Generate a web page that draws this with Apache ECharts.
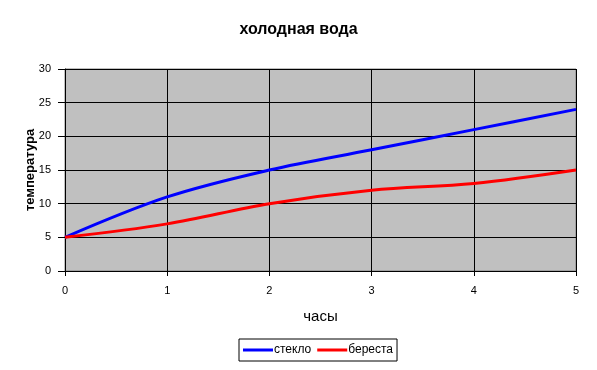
<!DOCTYPE html>
<html><head><meta charset="utf-8">
<script src="https://cdn.jsdelivr.net/npm/echarts@6/dist/echarts.min.js"></script>
<style>html,body{margin:0;padding:0;background:#fff}#c{width:597px;height:370px}</style>
</head><body><div id="c"></div>
<script>
const hours = [0, 1, 2, 3, 4, 5];
const steklo = [5, 11, 15, 18, 21, 24];
const beresta = [5, 7, 10, 12, 13, 15];
const seriesNames = ['стекло', 'береста'];
const titleText = 'холодная вода';
const xName = 'часы';
const yName = 'температура';

const font = 'Liberation Sans, Arial, sans-serif';
const chart = echarts.init(document.getElementById('c'), null, {renderer: 'canvas'});
chart.setOption({
  animation: false,
  backgroundColor: '#fff',
  title: {text: titleText, left: 'center', top: 17,
    textStyle: {fontFamily: font, fontSize: 16, fontWeight: 'bold', color: '#000'}},
  grid: {left: 65, right: 21, top: 69, bottom: 99, show: true,
    backgroundColor: '#C0C0C0', borderColor: '#808080', borderWidth: 1},
  legend: {bottom: 9, left: 239, data: seriesNames, icon: 'rect',
    itemWidth: 30, itemHeight: 3, itemGap: 6, borderColor: '#000', borderWidth: 1,
    padding: [5, 4, 5, 4], borderRadius: 0,
    textStyle: {fontFamily: font, fontSize: 12, color: '#000', padding: [0, 0, 0, -4]}},
  xAxis: {type: 'value', min: 0, max: 5, interval: 1, name: xName,
    nameLocation: 'middle', nameGap: 38, nameMoveOverlap: false,
    nameTextStyle: {fontFamily: font, fontSize: 15, color: '#000'},
    axisLine: {show: true, onZero: false, lineStyle: {color: '#000', width: 1}},
    axisTick: {show: true, length: 5, lineStyle: {color: '#000'}},
    axisLabel: {fontFamily: font, fontSize: 11, color: '#000', margin: 14},
    splitLine: {show: true, lineStyle: {color: '#000', width: 1}}},
  yAxis: {type: 'value', min: 0, max: 30, interval: 5, name: yName,
    nameLocation: 'middle', nameGap: 28, nameRotate: 90, nameMoveOverlap: false,
    nameTextStyle: {fontFamily: font, fontSize: 13, fontWeight: 'bold', color: '#000'},
    axisLine: {show: true, onZero: false, lineStyle: {color: '#000', width: 1}},
    axisTick: {show: true, length: 7, lineStyle: {color: '#000'}},
    axisLabel: {fontFamily: font, fontSize: 11, color: '#000', margin: 14},
    splitLine: {show: true, lineStyle: {color: '#000', width: 1}}},
  series: [
    {name: seriesNames[0], type: 'line', data: hours.map((h, i) => [h, steklo[i]]),
      smooth: 0.35, showSymbol: false, lineStyle: {color: '#0000FF', width: 3}, itemStyle: {color: '#0000FF'}},
    {name: seriesNames[1], type: 'line', data: hours.map((h, i) => [h, beresta[i]]),
      smooth: 0.35, showSymbol: false, lineStyle: {color: '#FF0000', width: 3}, itemStyle: {color: '#FF0000'}}
  ]
});
</script></body></html>
